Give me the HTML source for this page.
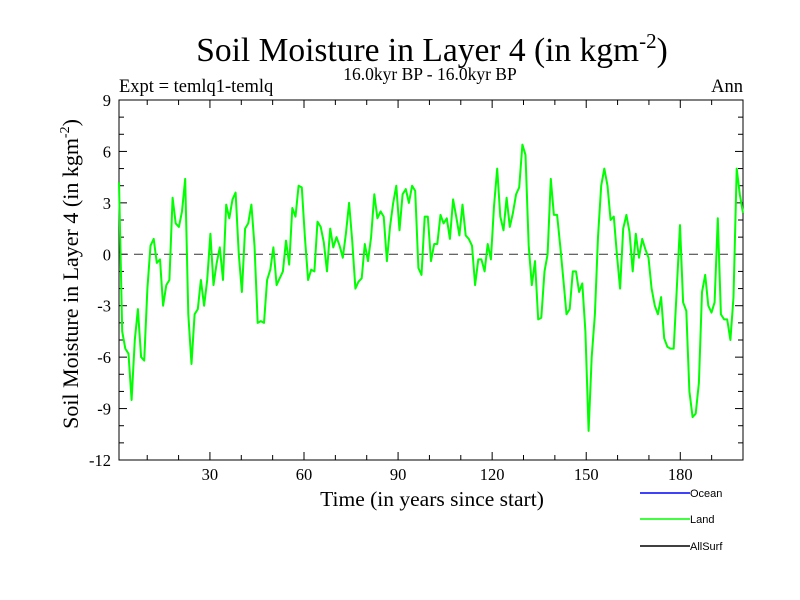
<!DOCTYPE html>
<html><head><meta charset="utf-8"><style>
body{margin:0;background:#fff;}
svg{display:block;font-family:"Liberation Serif",serif;}
</style></head><body>
<svg id="chart" width="800" height="600">
<rect width="800" height="600" fill="#fff"/>
<text x="432" y="61" font-size="33.5" text-anchor="middle">Soil Moisture in Layer 4 (in kgm<tspan dy="-13" font-size="21">-2</tspan><tspan dy="13">)</tspan></text>
<text x="430" y="80" font-size="17.5" text-anchor="middle">16.0kyr BP - 16.0kyr BP</text>
<text x="119" y="92" font-size="18.5">Expt = temlq1-temlq</text>
<text x="743" y="92" font-size="18.5" text-anchor="end">Ann</text>
<text x="432" y="506" font-size="21.5" text-anchor="middle">Time (in years since start)</text>
<text transform="translate(78,274) rotate(-90)" font-size="22" text-anchor="middle">Soil Moisture in Layer 4 (in kgm<tspan dy="-9" font-size="14">-2</tspan><tspan dy="9">)</tspan></text>
<g id="axes"></g>
<g id="series"></g>
<g font-family="Liberation Sans, sans-serif" font-size="11">
<line x1="640" y1="493" x2="690" y2="493" stroke="#0000ff" stroke-width="1.5"/>
<text x="690" y="497">Ocean</text>
<line x1="640" y1="519" x2="690" y2="519" stroke="#00ff00" stroke-width="1.5"/>
<text x="690" y="523">Land</text>
<line x1="640" y1="546" x2="690" y2="546" stroke="#000" stroke-width="1.5"/>
<text x="690" y="550">AllSurf</text>
</g>
</svg>
<script>
const yTicks=[9,6,3,0,-3,-6,-9,-12];
const yTickLabels=["9","6","3","0","-3","-6","-9","-12"];
const xTicks=[30,60,90,120,150,180];
const xTickLabels=["30","60","90","120","150","180"];
const landValues=[4.2,-4.5,-5.5,-5.8,-8.5,-5,-3.2,-6,-6.2,-2,0.5,0.9,-0.5,-0.3,-3,-1.8,-1.5,3.3,1.8,1.6,
2.5,4.4,-3.5,-6.4,-3.5,-3.2,-1.5,-3,-1.5,1.2,-1.8,-0.5,0.4,-1.5,2.9,2.1,3.2,3.6,0,-2.2,
1.5,1.8,2.9,0.5,-4,-3.9,-4,-1.5,-0.9,0.4,-1.8,-1.4,-1,0.8,-0.6,2.7,2.2,4,3.9,1,
-1.5,-0.9,-1,1.9,1.6,0.7,-1,1.5,0.4,1,0.5,-0.2,1.2,3,0.8,-2,-1.6,-1.4,0.6,-0.4,
1,3.5,2.1,2.5,2.2,-0.4,1.6,3,4,1.4,3.5,3.8,3,4,3.7,-0.8,-1.2,2.2,2.2,-0.4,
0.6,0.6,2.3,1.8,2.1,0.9,3.2,2.2,1.1,2.9,1.1,0.9,0.5,-1.8,-0.3,-0.3,-1,0.6,-0.3,2.8,
5,2.2,1.4,3.3,1.6,2.4,3.5,3.9,6.4,5.8,0.5,-1.8,-0.4,-3.8,-3.7,-1,0,4.4,2.3,2.3,
0.5,-1.5,-3.5,-3.2,-1,-1,-2.2,-1.7,-4.5,-10.3,-6,-3.5,1,4,5,4,2,2.2,0,-2,
1.5,2.3,1.3,-1,1.2,-0.2,0.9,0.3,-0.2,-2,-3,-3.5,-2.5,-4.9,-5.4,-5.5,-5.5,-2,1.7,-2.8,
-3.3,-8,-9.5,-9.3,-7.5,-2.2,-1.2,-3,-3.4,-2.8,2.1,-3.5,-3.8,-3.8,-5,-2.5,5,3.5,2.4];
const NS="http://www.w3.org/2000/svg";
const L=119,R=743,T=100,B=460,xMin=1,xMax=200,yMin=-12,yMax=9;
const xs=v=>L+(v-xMin)/(xMax-xMin)*(R-L);
const ys=v=>B-(v-yMin)/(yMax-yMin)*(B-T);
const ax=document.getElementById('axes');
function mk(tag,attrs,parent){const e=document.createElementNS(NS,tag);for(const k in attrs)e.setAttribute(k,attrs[k]);parent.appendChild(e);return e;}
const frame=mk('rect',{x:L,y:T,width:R-L,height:B-T,fill:'none',stroke:'#000','stroke-width':1},ax);


for(let v=yMin;v<=yMax;v++){const len=(v%3===0)?8:5;
mk('line',{x1:L,y1:ys(v),x2:L+len,y2:ys(v),stroke:'#000'},ax);
mk('line',{x1:R,y1:ys(v),x2:R-len,y2:ys(v),stroke:'#000'},ax);}
for(let v=10;v<xMax;v+=10){const len=(v%30===0)?8:5;
mk('line',{x1:xs(v),y1:B,x2:xs(v),y2:B-len,stroke:'#000'},ax);
mk('line',{x1:xs(v),y1:T,x2:xs(v),y2:T+len,stroke:'#000'},ax);}
yTicks.forEach((v,i)=>{const t=mk('text',{x:L-8,y:ys(v)+6,'font-size':16.5,'text-anchor':'end'},ax);t.textContent=yTickLabels[i];

});
xTicks.forEach((v,i)=>{const t=mk('text',{x:xs(v),y:B+20,'font-size':16.5,'text-anchor':'middle'},ax);t.textContent=xTickLabels[i];

});
const zl=mk('line',{x1:L,y1:ys(0),x2:R,y2:ys(0),stroke:'#333','stroke-dasharray':'9,6'},ax);


const n=landValues.length;
const pts=landValues.map((v,i)=>xs(xMin+i*(xMax-xMin)/(n-1)).toFixed(1)+','+ys(v).toFixed(1)).join(' ');
const pl=mk('polyline',{points:pts,fill:'none',stroke:'#00ff00','stroke-width':2,'stroke-linejoin':'round'},document.getElementById('series'));


</script>
</body></html>
